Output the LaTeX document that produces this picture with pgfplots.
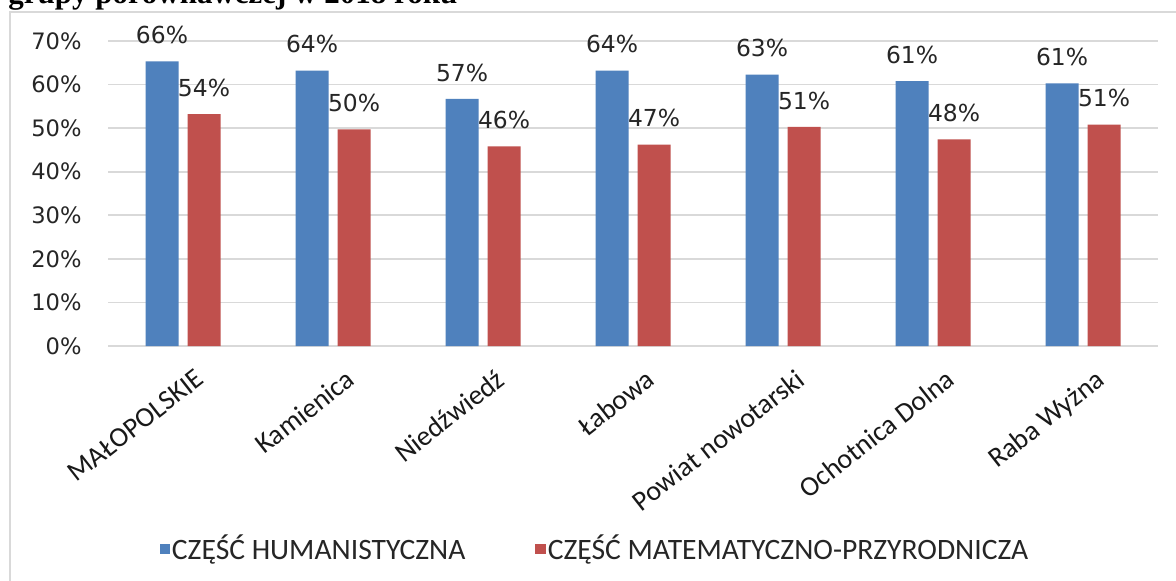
\documentclass[border=0pt]{standalone}
\usepackage{fontspec}
\usepackage{pgfplots}
\pgfplotsset{compat=1.18}
\newfontfamily\dejavu{DejaVu Sans}
\newfontfamily\carlito{Carlito}
\newfontfamily\titlefont{Liberation Serif}
\definecolor{barblue}{HTML}{4F81BD}
\definecolor{barred}{HTML}{C0504D}
\definecolor{gridgray}{HTML}{D9D9D9}
\begin{document}
\begin{tikzpicture}
\useasboundingbox (0pt,0pt) rectangle (588pt,-290.5pt);
\clip (0pt,0pt) rectangle (588pt,-290.5pt);
\fill[white] (0pt,0pt) rectangle (588pt,-290.5pt);
\node[anchor=base west, inner sep=0pt, font=\titlefont\bfseries\fontsize{15.5}{18}\selectfont] at (4pt,-2.0pt) {grupy porównawczej w 2018 roku};
\draw[gridgray, line width=1.3pt] (5pt,-300pt) -- (5pt,-6pt) -- (600pt,-6pt);
\begin{axis}[
  at={(54pt,-173pt)}, anchor=south west,
  scale only axis, width=525pt, height=152.5pt,
  xmin=-0.5, xmax=6.5, ymin=0, ymax=70,
  ybar=4.5pt, bar width=16.5pt,
  clip=false,
  axis line style={draw=none},
  major tick length=0pt,
  tick style={draw=none},
  ymajorgrids, grid style={gridgray, line width=0.9pt},
  ytick={0,10,...,70},
  yticklabel={\pgfmathprintnumber{\tick}\%},
  /pgf/number format/assume math mode=true,
  yticklabel style={font=\dejavu\fontsize{11.3}{13}\selectfont, color=black!85, inner sep=0pt, anchor=east, xshift=-13pt},
  xtick={0,...,6},
  xticklabels={MAŁOPOLSKIE, Kamienica, Niedźwiedź, Łabowa, Powiat nowotarski, Ochotnica Dolna, Raba Wyżna},
  xticklabel style={font=\carlito\fontsize{14}{16}\selectfont, color=black!90, rotate=38, anchor=north east, inner sep=0pt, xshift=-2pt, yshift=-12pt},
  nodes near coords,
  point meta=explicit symbolic,
  every node near coord/.append style={font=\dejavu\fontsize{11.7}{13}\selectfont, color=black!85, anchor=south, inner sep=0pt, yshift=8.5pt},
  legend style={at={(0.4638,-0.6656)}, anchor=center, draw=none, fill=none,
    font=\carlito\fontsize{14.8}{16}\selectfont, text=black!85,
    nodes={inner sep=1pt}, /tikz/every even column/.append style={column sep=34pt}},
  legend columns=2,
  legend image code/.code={\fill[#1] (0pt,-2.6pt) rectangle (5.2pt,2.6pt);},
]
\addplot[fill=barblue, draw=none] coordinates {
 (0,65.3) [66\%]
 (1,63.2) [64\%]
 (2,56.7) [57\%]
 (3,63.2) [64\%]
 (4,62.3) [63\%]
 (5,60.8) [61\%]
 (6,60.3) [61\%]
};
\addplot[fill=barred, draw=none] coordinates {
 (0,53.2) [54\%]
 (1,49.7) [50\%]
 (2,45.8) [46\%]
 (3,46.2) [47\%]
 (4,50.3) [51\%]
 (5,47.4) [48\%]
 (6,50.8) [51\%]
};
\legend{CZĘŚĆ HUMANISTYCZNA, CZĘŚĆ MATEMATYCZNO-PRZYRODNICZA}
\end{axis}
\end{tikzpicture}
\end{document}
